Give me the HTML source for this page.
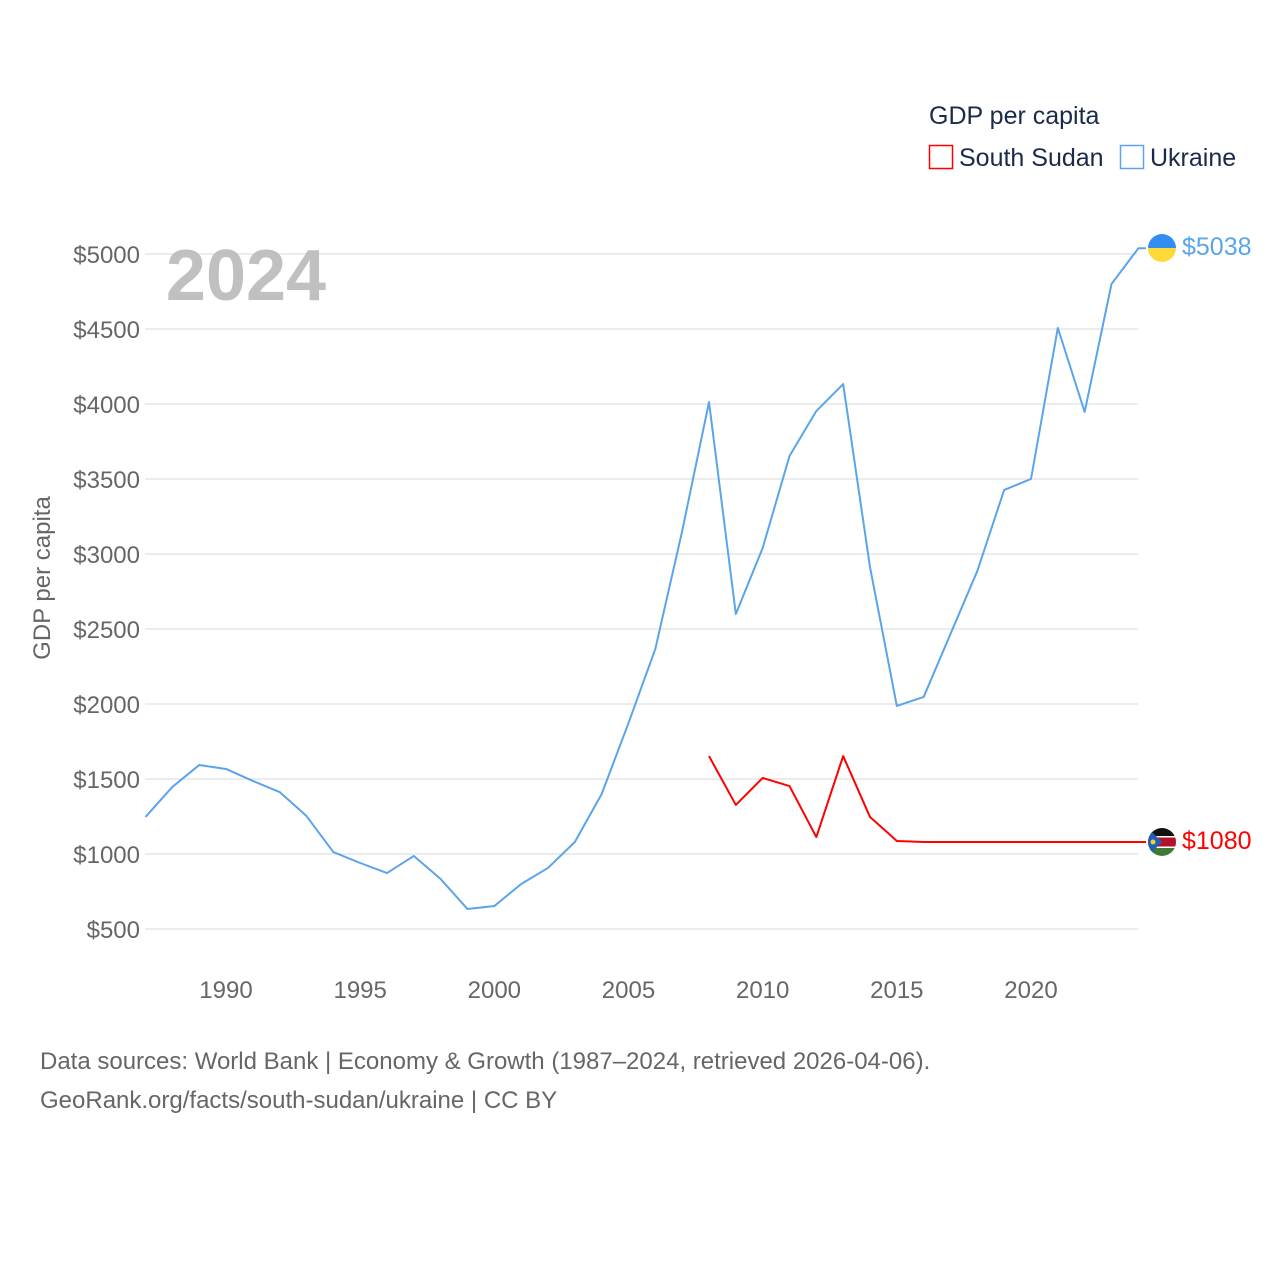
<!DOCTYPE html>
<html><head><meta charset="utf-8">
<style>
body{margin:0;background:#fff;font-family:"Liberation Sans",sans-serif;}
svg text{font-family:"Liberation Sans",sans-serif;}
</style></head>
<body>
<svg id="chart" width="1280" height="1280" viewBox="0 0 1280 1280">
  <g id="grid"></g>
  <g id="yticks"></g>
  <g id="xticks"></g>
  <text x="246" y="300" font-size="72" font-weight="bold" fill="#c0c0c0" text-anchor="middle">2024</text>
  <text transform="translate(50,578) rotate(-90)" font-size="24" fill="#666" text-anchor="middle">GDP per capita</text>
  <g id="series"></g>
  <g>
    <text x="929" y="124" font-size="25" fill="#1a2a4a">GDP per capita</text>
    <g>
      <rect x="929.5" y="145.5" width="23" height="23" fill="none" stroke="#ff0000" stroke-width="1.5"/>
      <text x="959" y="166" font-size="25" fill="#1a2a4a">South Sudan</text>
    </g>
    <g>
      <rect x="1120.5" y="145.5" width="23" height="23" fill="none" stroke="#5aa5ea" stroke-width="1.5"/>
      <text x="1150" y="166" font-size="25" fill="#1a2a4a">Ukraine</text>
    </g>
  </g>
  <g>
    <clipPath id="c1"><circle cx="1162" cy="248" r="14"/></clipPath>
    <g clip-path="url(#c1)"><rect x="1148" y="234" width="28" height="14" fill="#2f8ef0"/><rect x="1148" y="248" width="28" height="14" fill="#ffd83a"/></g>
  </g>
  <g>
    <clipPath id="c2"><circle cx="1162" cy="842" r="14"/></clipPath>
    <g clip-path="url(#c2)">
      <rect x="1148" y="828" width="28" height="9" fill="#111"/>
      <rect x="1148" y="837" width="28" height="10" fill="#b3122b"/>
      <rect x="1148" y="836" width="28" height="1.5" fill="#fff"/>
      <rect x="1148" y="846.5" width="28" height="1.5" fill="#fff"/>
      <rect x="1148" y="848" width="28" height="8" fill="#3f7a32"/>
      <polygon points="1148,828 1162,842 1148,856" fill="#1f5fb5"/>
      <circle cx="1153" cy="842" r="2.5" fill="#f3d02b"/>
    </g>
  </g>
  <text x="1182" y="255" font-size="25" fill="#5aa5ea">$5038</text>
  <text x="1182" y="849" font-size="25" fill="#ff0000">$1080</text>
  <text x="40" y="1069" font-size="24" fill="#666">Data sources: World Bank | Economy &amp; Growth (1987–2024, retrieved 2026-04-06).</text>
  <text x="40" y="1108" font-size="24" fill="#666">GeoRank.org/facts/south-sudan/ukraine | CC BY</text>
</svg>
<script>
const yTicks=[500,1000,1500,2000,2500,3000,3500,4000,4500,5000];
const xTicks=[1990,1995,2000,2005,2010,2015,2020];
const ukraineYears=[1987,1988,1989,1990,1991,1992,1993,1994,1995,1996,1997,1998,1999,2000,2001,2002,2003,2004,2005,2006,2007,2008,2009,2010,2011,2012,2013,2014,2015,2016,2017,2018,2019,2020,2021,2022,2023,2024];
const ukraineValues=[1247,1447,1593,1567,1487,1413,1253,1013,940,873,987,833,633,653,800,907,1080,1400,1873,2367,3153,4013,2600,3040,3653,3953,4133,2913,1987,2047,2467,2887,3427,3500,4507,3947,4800,5038];
const ssYears=[2008,2009,2010,2011,2012,2013,2014,2015,2016,2017,2018,2019,2020,2021,2022,2023,2024];
const ssValues=[1653,1327,1507,1453,1113,1653,1247,1087,1080,1080,1080,1080,1080,1080,1080,1080,1080];

const NS='http://www.w3.org/2000/svg';
const x=yr=>226+(yr-1990)*(1031-226)/30;
const y=v=>254+(5000-v)*0.15;
function mk(tag,attrs,parent){const e=document.createElementNS(NS,tag);for(const k in attrs)e.setAttribute(k,attrs[k]);parent.appendChild(e);return e;}
const grid=document.getElementById('grid'),yt=document.getElementById('yticks'),xt=document.getElementById('xticks'),series=document.getElementById('series');
yTicks.forEach(v=>{
  const l=mk('line',{x1:145,x2:1138,y1:y(v),y2:y(v),stroke:'#e6e6e6','stroke-width':1.5},grid);
  
  
  const t=mk('text',{x:140,y:y(v)+9,'font-size':24,fill:'#666','text-anchor':'end'},yt);
  t.textContent='$'+v;
  
  
});
xTicks.forEach(yr=>{
  const t=mk('text',{x:x(yr),y:998,'font-size':24,fill:'#666','text-anchor':'middle'},xt);
  t.textContent=yr;
  
  
});
function line(years,vals,color,name){
  const pts=years.map((yr,i)=>x(yr)+','+y(vals[i]));
  const last=vals[vals.length-1];
  pts.push('1146,'+y(last));
  const p=mk('polyline',{points:pts.join(' '),fill:'none',stroke:color,'stroke-width':2,'stroke-linejoin':'round'},series);
  
  
}
line(ukraineYears,ukraineValues,'#5aa5ea','ukraine-line');
line(ssYears,ssValues,'#ff0000','south-sudan-line');
</script>
</body></html>
